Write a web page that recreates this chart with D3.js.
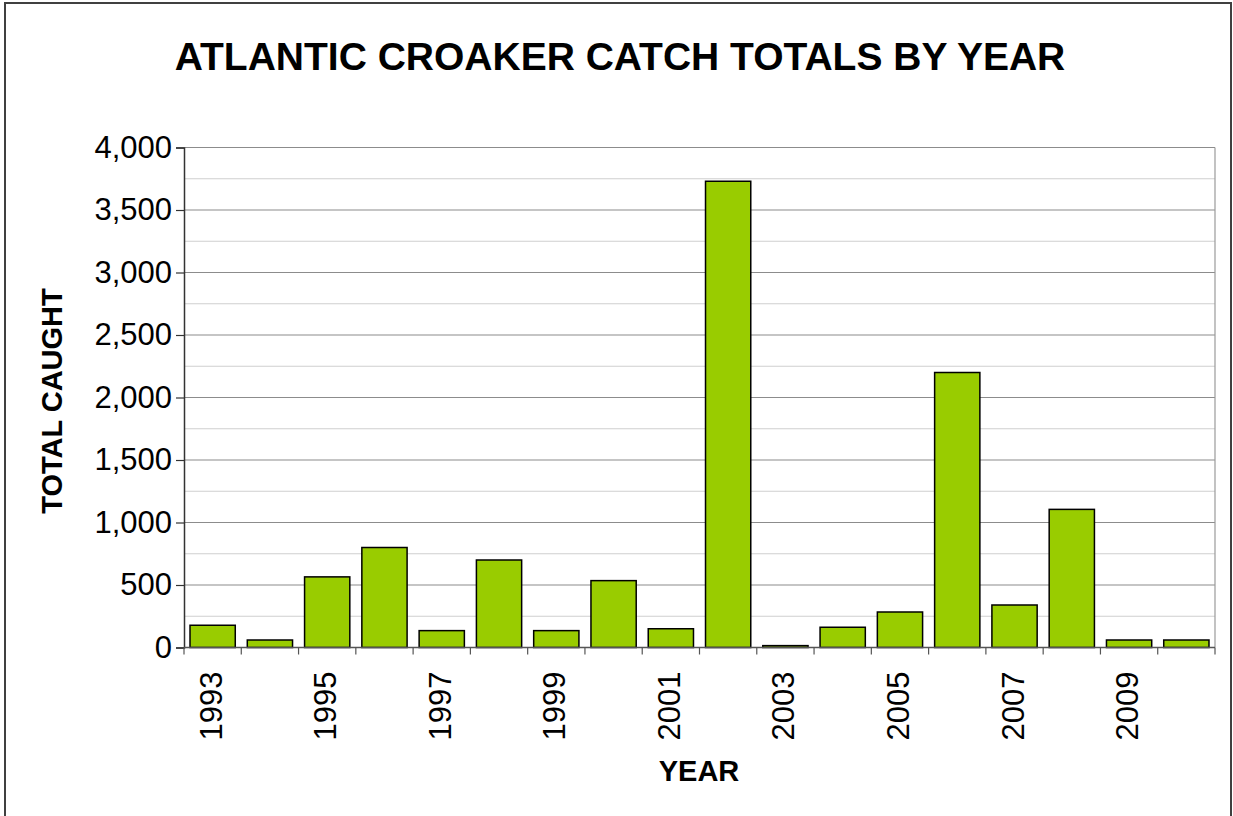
<!DOCTYPE html>
<html>
<head>
<meta charset="utf-8">
<script src="https://cdn.jsdelivr.net/npm/d3@7"></script>
<style>
  body { margin: 0; background: #fff; }
  text { font-family: "Liberation Sans", Arial, sans-serif; }
</style>
</head>
<body>
<script>
// catch totals
const years = ["1993","1994","1995","1996","1997","1998","1999","2000","2001","2002",
               "2003","2004","2005","2006","2007","2008","2009","2010"]
const totals = [178, 60, 565, 800, 135, 700, 135, 535, 150, 3730,
                15, 162, 284, 2200, 340, 1105, 60, 60]
const yTicks = [0, 500, 1000, 1500, 2000, 2500, 3000, 3500, 4000]
const yMinor = [250, 750, 1250, 1750, 2250, 2750, 3250, 3750]

const W = 1233, H = 816
const margin = {top: 147.5, right: 18, bottom: 168.5, left: 184}
const width = W - margin.left - margin.right
const height = H - margin.top - margin.bottom
const tickFont = 31

let svg = d3.select("body").append("svg")
  .attr("width", W).attr("height", H)

// outer frame
svg.append("rect")
  .attr("x", 5).attr("y", 3).attr("width", 1226).attr("height", 830)
  .attr("fill", "none").attr("stroke", "#404040").attr("stroke-width", 2)

svg.append("text")
  .attr("x", 620).attr("y", 70)
  .attr("text-anchor", "middle")
  .attr("font-size", "39px").attr("font-weight", "bold")
  .text("ATLANTIC CROAKER CATCH TOTALS BY YEAR")

let g = svg.append("g").attr("transform", "translate(" + margin.left + "," + margin.top + ")")

let x = d3.scaleBand().domain(years).range([0, width]).paddingInner(0.21).paddingOuter(0.105)
let xEdge = d3.scaleLinear().domain([0, years.length]).range([0, width])
let y = d3.scaleLinear().domain([0, 4000]).range([height, 0])

// gridlines
g.selectAll(".minor").data(yMinor).enter().append("line")
  .attr("x1", 0).attr("x2", width)
  .attr("y1", d => y(d)).attr("y2", d => y(d))
  .attr("stroke", "#cfcfcf").attr("stroke-width", 1)
g.selectAll(".major").data(yTicks.slice(1)).enter().append("line")
  .attr("x1", 0).attr("x2", width)
  .attr("y1", d => y(d)).attr("y2", d => y(d))
  .attr("stroke", "#8c8c8c").attr("stroke-width", 1.2)

// plot border right side
g.append("line").attr("x1", width).attr("x2", width).attr("y1", 0).attr("y2", height)
  .attr("stroke", "#9a9a9a").attr("stroke-width", 1.2)

// bars
g.selectAll(".bar").data(totals).enter().append("rect")
  .attr("x", (d, i) => x(years[i]))
  .attr("y", d => y(d))
  .attr("width", x.bandwidth())
  .attr("height", d => height - y(d))
  .attr("fill", "#99cc00")
  .attr("stroke", "#000").attr("stroke-width", 1.5)

// y axis
let yAxis = g.append("g")
  .call(d3.axisLeft(y).tickValues(yTicks).tickSize(8).tickFormat(d3.format(",")))
yAxis.select(".domain").attr("stroke", "#333").attr("stroke-width", 1.5)
yAxis.selectAll(".tick line").attr("stroke", "#333").attr("stroke-width", 1.2)
yAxis.selectAll(".tick text")
  .attr("font-size", tickFont + "px").attr("fill", "#000")
  .attr("font-family", "Liberation Sans, Arial, sans-serif")
  .attr("x", -12)

// x axis
let xg = g.append("g").attr("transform", "translate(0," + height + ")")
xg.append("line").attr("x1", 0).attr("x2", width)
  .attr("stroke", "#555").attr("stroke-width", 1.5)
xg.selectAll(".xtick").data(d3.range(years.length + 1)).enter().append("line")
  .attr("x1", d => xEdge(d)).attr("x2", d => xEdge(d))
  .attr("y1", 0).attr("y2", 7)
  .attr("stroke", "#555").attr("stroke-width", 1.2)
xg.selectAll(".xlabel").data(years.filter((d, i) => i % 2 == 0)).enter().append("text")
  .attr("transform", d => "translate(" + (x(d) + x.bandwidth() / 2 + 9) + ",24) rotate(-90)")
  .attr("text-anchor", "end")
  .attr("font-size", tickFont + "px")
  .text(d => d)

svg.append("text")
  .attr("transform", "translate(62,401) rotate(-90)")
  .attr("text-anchor", "middle")
  .attr("font-size", "29px").attr("font-weight", "bold")
  .text("TOTAL CAUGHT")

svg.append("text")
  .attr("x", 699).attr("y", 781)
  .attr("text-anchor", "middle")
  .attr("font-size", "29px").attr("font-weight", "bold")
  .text("YEAR")
</script>
</body>
</html>
